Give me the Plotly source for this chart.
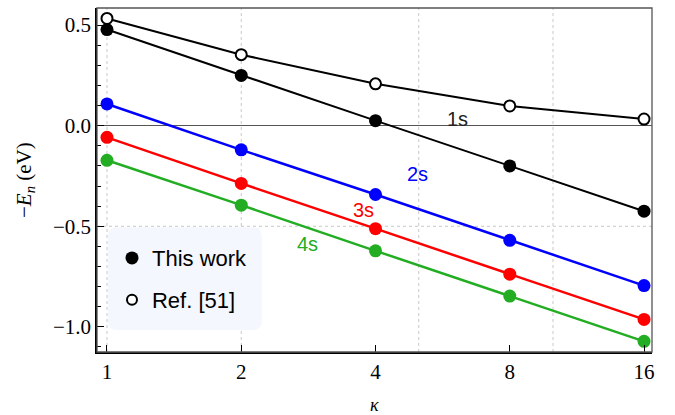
import numpy as np
import plotly.graph_objects as go

kappa = [1, 2, 4, 8, 16]
e_1s = [0.478, 0.250, 0.025, -0.200, -0.425]
e_1s_ref = [0.533, 0.353, 0.208, 0.098, 0.033]
e_2s = [0.108, -0.120, -0.342, -0.570, -0.795]
e_3s = [-0.058, -0.287, -0.512, -0.738, -0.963]
e_4s = [-0.172, -0.395, -0.622, -0.847, -1.072]

state_labels = ["1s", "2s", "3s", "4s"]
state_colors = ["#222222", "#0000ff", "#ff0000", "#22ad22"]
label_pos_x = [6.12, 4.98, 3.75, 2.81]
label_pos_y = [0.035, -0.24, -0.42, -0.59]

grid_x = [1, 2, 5, 10]
grid_y = [-0.5]

tick_x = [1, 2, 4, 8, 16]
tick_y = [-1.0, -0.5, 0.0, 0.5]

SERIF = "Liberation Serif"
SANS = "Liberation Sans"

fig = go.Figure()

# This work series
for vals, col in zip([e_1s, e_2s, e_3s, e_4s], ["#000000", "#0000ff", "#ff0000", "#22ad22"]):
    fig.add_trace(go.Scatter(
        x=kappa, y=vals, mode="lines+markers",
        line=dict(color=col, width=2.5 if col != "#000000" else 2),
        marker=dict(size=13, color=col, symbol="circle"),
        showlegend=False, hoverinfo="skip"))

# Ref series
fig.add_trace(go.Scatter(
    x=kappa, y=e_1s_ref, mode="lines+markers",
    line=dict(color="#000000", width=2),
    marker=dict(size=11, color="white", symbol="circle", line=dict(color="black", width=2)),
    showlegend=False, hoverinfo="skip"))

# legend entries
fig.add_trace(go.Scatter(x=[None], y=[None], mode="markers", name="This work",
                         marker=dict(size=13, color="black", symbol="circle"),
                         legend="legend"))
fig.add_trace(go.Scatter(x=[None], y=[None], mode="markers", name="Ref. [51]",
                         marker=dict(size=10, color="white", symbol="circle",
                                     line=dict(color="black", width=2)),
                         legend="legend2"))

shapes = []
for gx in grid_x:
    shapes.append(dict(type="line", xref="x", yref="paper", x0=gx, x1=gx, y0=0, y1=1,
                       line=dict(color="#c8c8c8", width=1, dash="dot"), layer="below"))
for gy in grid_y:
    shapes.append(dict(type="line", xref="paper", yref="y", x0=0, x1=1, y0=gy, y1=gy,
                       line=dict(color="#c8c8c8", width=1, dash="dot"), layer="below"))

# legend rounded box
x0, x1, y0, y1 = 0.0198, 0.297, 0.064, 0.363
rx, ry = 9 / 555, 9 / 344
path = (f"M{x0+rx},{y0} L{x1-rx},{y0} Q{x1},{y0} {x1},{y0+ry} L{x1},{y1-ry} "
        f"Q{x1},{y1} {x1-rx},{y1} L{x0+rx},{y1} Q{x0},{y1} {x0},{y1-ry} "
        f"L{x0},{y0+ry} Q{x0},{y0} {x0+rx},{y0} Z")
shapes.append(dict(type="path", xref="paper", yref="paper", path=path,
                   fillcolor="#f4f7fd", line=dict(width=0), layer="below"))
# frame
shapes.append(dict(type="rect", xref="paper", yref="paper", x0=0, x1=1, y0=0, y1=1,
                   line=dict(color="#555555", width=1.3), layer="above"))

annotations = []
for lab, col, lx, ly in zip(state_labels, state_colors, label_pos_x, label_pos_y):
    annotations.append(dict(x=np.log10(lx), y=ly, xref="x", yref="y", text=lab,
                            showarrow=False, font=dict(family=SANS, size=20, color=col),
                            xanchor="center", yanchor="middle"))
annotations.append(dict(x=-0.1297, y=0.5, xref="paper", yref="paper",
                        text="\u2212<i>E<sub>n</sub></i> (eV)", textangle=-90,
                        showarrow=False, font=dict(family=SERIF, size=21, color="black"),
                        xanchor="center", yanchor="middle"))
annotations.append(dict(x=0.5, y=-0.154, xref="paper", yref="paper",
                        text="<i>\u03ba</i>", showarrow=False,
                        font=dict(family=SERIF, size=18, color="black"),
                        xanchor="center", yanchor="middle"))

fig.update_layout(
    width=675, height=415,
    margin=dict(l=97, r=23, t=8, b=63),
    paper_bgcolor="white", plot_bgcolor="white",
    shapes=shapes, annotations=annotations,
    legend=dict(x=0.027, y=0.273, xanchor="left", yanchor="middle",
                bgcolor="rgba(0,0,0,0)", font=dict(family=SANS, size=22, color="black")),
    legend2=dict(x=0.027, y=0.151, xanchor="left", yanchor="middle",
                 bgcolor="rgba(0,0,0,0)", font=dict(family=SANS, size=22, color="black")),
    xaxis=dict(type="log", range=[-0.0224, 1.222], tickvals=tick_x,
               ticktext=[str(v) for v in tick_x],
               ticks="inside", ticklen=7, tickwidth=1.2, tickcolor="black",
               showgrid=False, zeroline=False,
               showline=True, linecolor="black", linewidth=1.5,
               tickfont=dict(family=SERIF, size=21, color="black")),
    yaxis=dict(range=[-1.125, 0.585], tickvals=tick_y, tickformat=".1f",
               ticks="inside", ticklen=7, tickwidth=1.2, tickcolor="black",
               minor=dict(dtick=0.1, tick0=0, ticks="inside", ticklen=4, tickcolor="black", tickwidth=1, showgrid=False),
               showgrid=False, zeroline=True, zerolinecolor="#555555", zerolinewidth=1,
               showline=True, linecolor="black", linewidth=1.5,
               tickfont=dict(family=SERIF, size=21, color="black")),
)

fig.write_html("out.html")
